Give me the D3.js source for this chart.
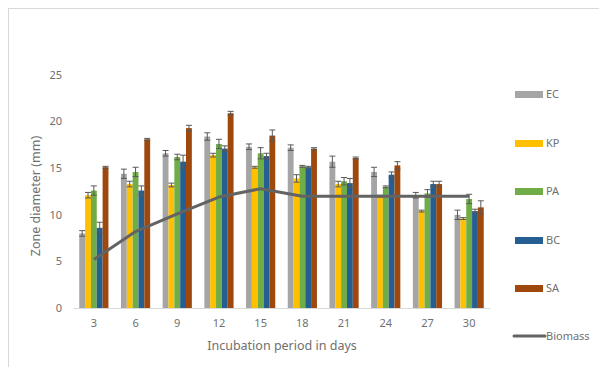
<!DOCTYPE html>
<html>
<head>
<meta charset="utf-8">
<script src="https://cdn.jsdelivr.net/npm/d3@7"></script>
<style>
  body { margin: 0; background: #fff; }
  svg { font-family: "Noto Sans", "Open Sans", sans-serif; }
</style>
</head>
<body>
<div id="chart"></div>
<script>
// data
const days = ['3', '6', '9', '12', '15', '18', '21', '24', '27', '30'];
const seriesNames = ['EC', 'KP', 'PA', 'BC', 'SA'];
const EC = [8.0, 14.4, 16.6, 18.4, 17.3, 17.2, 15.7, 14.6, 12.1, 10.0];
const KP = [12.1, 13.3, 13.2, 16.4, 15.1, 13.9, 13.3, 12.0, 10.4, 9.6];
const PA = [12.6, 14.6, 16.2, 17.6, 16.6, 15.2, 13.6, 13.0, 12.3, 11.7];
const BC = [8.6, 12.6, 15.7, 17.1, 16.3, 15.1, 13.4, 14.3, 13.3, 10.4];
const SA = [15.1, 18.1, 19.3, 20.9, 18.5, 17.1, 16.1, 15.3, 13.3, 10.8];
const EC_err = [0.3, 0.5, 0.3, 0.4, 0.3, 0.3, 0.6, 0.5, 0.3, 0.5];
const KP_err = [0.3, 0.3, 0.2, 0.2, 0.1, 0.4, 0.3, 0.1, 0.1, 0.1];
const PA_err = [0.5, 0.5, 0.3, 0.5, 0.6, 0.1, 0.4, 0.1, 0.4, 0.5];
const BC_err = [0.6, 0.5, 0.7, 0.3, 0.3, 0.1, 0.5, 0.3, 0.3, 0.2];
const SA_err = [0.1, 0.1, 0.3, 0.2, 0.6, 0.1, 0.1, 0.4, 0.3, 0.7];
const biomass = [5.2, 8.2, 10.1, 11.9, 12.8, 12.0, 12.0, 12.0, 12.0, 12.0];
const yTicks = [0, 5, 10, 15, 20, 25];

const colors = ['#a5a5a5', '#ffc000', '#70ad47', '#255e91', '#9e480e'];
const values = [EC, KP, PA, BC, SA];
const errors = [EC_err, KP_err, PA_err, BC_err, SA_err];
const textColor = '#6f6f6f';

const width = 599, height = 367;
const svg = d3.select('#chart').append('svg')
    .attr('width', width)
    .attr('height', height);

// chart border
svg.append('rect')
    .attr('x', 8.5).attr('y', 8.5)
    .attr('width', 620).attr('height', 400)
    .attr('fill', 'none')
    .attr('stroke', '#d9d9d9');

const x = d3.scaleBand()
    .domain(days)
    .range([73, 490])
    .paddingInner(0.3)
    .paddingOuter(0.15);

const xSub = d3.scaleBand()
    .domain(seriesNames)
    .range([0, x.bandwidth()]);

const y = d3.scaleLinear()
    .domain([0, 25])
    .range([308, 75]);

// y tick labels (no axis line)
svg.append('g')
    .selectAll('text')
    .data(yTicks)
    .enter().append('text')
    .attr('x', 62)
    .attr('y', d => y(d))
    .attr('dy', '0.35em')
    .attr('text-anchor', 'end')
    .style('font-size', '11px')
    .style('fill', textColor)
    .text(d => d);

// bars
seriesNames.forEach((name, si) => {
    const g = svg.append('g').attr('class', 'series-' + name);
    g.selectAll('rect')
        .data(values[si])
        .enter().append('rect')
        .attr('x', (d, i) => x(days[i]) + xSub(name))
        .attr('y', d => y(d))
        .attr('width', xSub.bandwidth())
        .attr('height', d => y(0) - y(d))
        .attr('fill', colors[si]);
});

// x axis
const xAxis = svg.append('g')
    .attr('transform', `translate(0,${y(0)})`)
    .call(d3.axisBottom(x).tickSize(0).tickPadding(11));
xAxis.select('.domain').attr('stroke', '#d9d9d9');
xAxis.selectAll('text')
    .style('font-size', '11px')
    .style('fill', textColor)
    .style('font-family', '"Noto Sans", "Open Sans", sans-serif');

// error bars
seriesNames.forEach((name, si) => {
    const g = svg.append('g').attr('class', 'err-' + name);
    values[si].forEach((v, i) => {
        const cx = x(days[i]) + xSub(name) + xSub.bandwidth() / 2;
        const e = errors[si][i];
        g.append('line')
            .attr('x1', cx).attr('x2', cx)
            .attr('y1', y(v + e)).attr('y2', y(v - e))
            .attr('stroke', '#595959').attr('stroke-width', 1);
        [v + e, v - e].forEach(t => {
            g.append('line')
                .attr('x1', cx - 3).attr('x2', cx + 3)
                .attr('y1', y(t)).attr('y2', y(t))
                .attr('stroke', '#595959').attr('stroke-width', 1);
        });
    });
});

// biomass line
const line = d3.line()
    .x((d, i) => x(days[i]) + x.bandwidth() / 2)
    .y(d => y(d));
svg.append('path')
    .datum(biomass)
    .attr('d', line)
    .attr('fill', 'none')
    .attr('stroke', '#636363')
    .attr('stroke-width', 3)
    .attr('stroke-linejoin', 'round');

// axis titles
svg.append('text')
    .attr('transform', 'translate(40,196) rotate(-90)')
    .attr('text-anchor', 'middle')
    .style('font-size', '12.5px')
    .style('fill', textColor)
    .text('Zone diameter (mm)');

svg.append('text')
    .attr('x', 282)
    .attr('y', 350)
    .attr('text-anchor', 'middle')
    .style('font-size', '12.5px')
    .style('fill', textColor)
    .text('Incubation period in days');

// legend
const legendY = [94, 143, 191, 240, 288];
const legend = svg.append('g').attr('class', 'legend');
seriesNames.forEach((name, si) => {
    legend.append('rect')
        .attr('x', 515).attr('y', legendY[si] - 3)
        .attr('width', 28).attr('height', 7)
        .attr('fill', colors[si]);
    legend.append('text')
        .attr('x', 546).attr('y', legendY[si])
        .attr('dy', '0.35em')
        .style('font-size', '11px')
        .style('fill', textColor)
        .text(name);
});
legend.append('line')
    .attr('x1', 514).attr('x2', 545)
    .attr('y1', 336).attr('y2', 336)
    .attr('stroke', '#636363')
    .attr('stroke-width', 3)
    .attr('stroke-linecap', 'round');
legend.append('text')
    .attr('x', 546).attr('y', 336)
    .attr('dy', '0.35em')
    .style('font-size', '11px')
    .style('fill', textColor)
    .text('Biomass');
</script>
</body>
</html>
